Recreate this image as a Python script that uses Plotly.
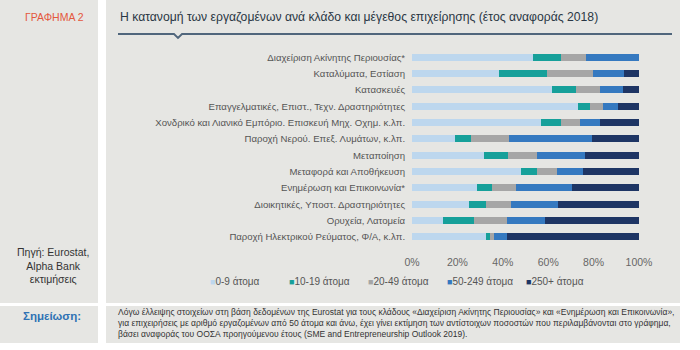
import plotly.graph_objects as go

categories = [
    "Διαχείριση Ακίνητης Περιουσίας*",
    "Καταλύματα, Εστίαση",
    "Κατασκευές",
    "Επαγγελματικές, Επιστ., Τεχν. Δραστηριότητες",
    "Χονδρικό και Λιανικό Εμπόριο. Επισκευή Μηχ. Οχημ. κ.λπ.",
    "Παροχή Νερού. Επεξ. Λυμάτων, κ.λπ.",
    "Μεταποίηση",
    "Μεταφορά και Αποθήκευση",
    "Ενημέρωση και Επικοινωνία*",
    "Διοικητικές, Υποστ. Δραστηριότητες",
    "Ορυχεία, Λατομεία",
    "Παροχή Ηλεκτρικού Ρεύματος, Φ/Α, κ.λπ.",
]
series_names = ["0-9 άτομα", "10-19 άτομα", "20-49 άτομα", "50-249 άτομα", "250+ άτομα"]
s_0_9 = [53.5, 38.5, 61.8, 73.1, 56.7, 19.0, 31.5, 48.0, 28.7, 24.9, 13.5, 32.4]
s_10_19 = [12.3, 20.9, 10.4, 5.1, 9.0, 7.2, 10.7, 7.1, 6.7, 7.6, 13.7, 2.0]
s_20_49 = [10.9, 20.4, 10.7, 5.8, 8.2, 16.7, 12.7, 8.6, 10.6, 11.1, 14.8, 1.9]
s_50_249 = [23.3, 13.8, 10.1, 6.9, 8.8, 36.5, 21.4, 11.7, 24.7, 20.8, 16.6, 5.4]
s_250 = [0.0, 6.4, 7.0, 9.1, 17.3, 20.6, 23.7, 24.6, 29.3, 35.6, 41.4, 58.3]
tick_vals = [0, 20, 40, 60, 80, 100]
tick_text = ["0%", "20%", "40%", "60%", "80%", "100%"]

title_text = "Η κατανομή των εργαζομένων ανά κλάδο και μέγεθος επιχείρησης (έτος αναφοράς 2018)"
label_text = "ΓΡΑΦΗΜΑ 2"
source_text = "Πηγή: Eurostat,<br>Alpha Bank<br>εκτιμήσεις"
note_label = "<b>Σημείωση:</b>"
note_lines = [
    "Λόγω έλλειψης στοιχείων στη βάση δεδομένων της Eurostat για τους κλάδους «Διαχείριση Ακίνητης Περιουσίας» και «Ενημέρωση και Επικοινωνία»,",
    "για επιχειρήσεις με αριθμό εργαζομένων από 50 άτομα και άνω, έχει γίνει εκτίμηση των αντίστοιχων ποσοστών που περιλαμβάνονται στο γράφημα,",
    "βάσει αναφοράς του ΟΟΣΑ προηγούμενου έτους (SME and Entrepreneurship Outlook 2019).",
]

colors = ["#bdd7ee", "#16a09a", "#a6a6a6", "#3579c0", "#1e3564"]
all_series = [s_0_9, s_10_19, s_20_49, s_50_249, s_250]

W, H = 700, 350
ML, MR, MT, MB = 412, 61, 49, 105
PW, PH = W - ML - MR, H - MT - MB

def px(x):
    return (x - ML) / PW

def py(y):
    return (H - MB - y) / PH

FONT = "Liberation Sans Narrow, Arial Narrow, Liberation Sans, Arial"
BG = "#e6e6e3"
CLEAR = "rgba(0,0,0,0)"

fig = go.Figure()
for name, vals, col in zip(series_names, all_series, colors):
    fig.add_trace(go.Bar(
        y=categories, x=vals, name=name, orientation="h",
        marker=dict(color=col, line=dict(width=0)), showlegend=False,
    ))
# legend entries: coloured square glyph in the label, symbol itself hidden
for name, col in zip(series_names + [" "], colors + [CLEAR]):
    label = f'<span style="color:{col}; font-size:9px">■</span>{name}' if name.strip() else " "
    fig.add_trace(go.Scatter(
        x=[None], y=[None], mode="markers",
        marker=dict(color=CLEAR, size=1, line=dict(width=0)),
        name=label, showlegend=True, hoverinfo="skip",
    ))

shapes = []
for (x0, x1, y0, y1) in [(0, 98, 0, 303), (106, 680, 0, 303), (0, 98, 306, 343), (106, 680, 306, 343)]:
    shapes.append(dict(type="rect", xref="paper", yref="paper",
                       x0=px(x0), x1=px(x1), y0=py(y1), y1=py(y0),
                       fillcolor=BG, line=dict(width=0), layer="below"))
path_pts = [(118, 34), (174, 34), (178, 38), (182, 34), (672, 34)]
path = "M " + " L ".join(f"{px(a):.5f},{py(b):.5f}" for a, b in path_pts)
shapes.append(dict(type="path", xref="paper", yref="paper", path=path,
                   line=dict(color="#50667c", width=1.8)))

annotations = [
    dict(text=title_text, x=px(118), y=py(17), xref="paper", yref="paper",
         xanchor="left", yanchor="middle", showarrow=False,
         font=dict(family=FONT, size=12.2, color="#2a3644")),
    dict(text=label_text, x=px(54), y=py(17), xref="paper", yref="paper",
         xanchor="center", yanchor="middle", showarrow=False,
         font=dict(family=FONT, size=10.5, color="#e4573d")),
    dict(text=source_text, x=px(53), y=py(265), xref="paper", yref="paper",
         xanchor="center", yanchor="middle", showarrow=False, align="center",
         font=dict(family="Liberation Sans, Arial", size=10.5, color="#333333")),
    dict(text=note_label, x=px(52), y=py(316), xref="paper", yref="paper",
         xanchor="center", yanchor="middle", showarrow=False,
         font=dict(family="Liberation Sans, Arial", size=11.5, color="#2f72b4")),
]
for i, line in enumerate(note_lines):
    annotations.append(dict(text=line, x=px(116), y=py(312 + 11 * i), xref="paper", yref="paper",
                            xanchor="left", yanchor="middle", showarrow=False,
                            font=dict(family=FONT, size=8.5, color="#333333")))

fig.update_layout(
    width=W, height=H,
    margin=dict(l=ML, r=MR, t=MT, b=MB, pad=0),
    barmode="stack", bargap=0.57,
    paper_bgcolor="white", plot_bgcolor=BG,
    font=dict(family=FONT, size=10, color="#555555"),
    xaxis=dict(range=[0, 100], tickvals=tick_vals, ticktext=tick_text,
               showgrid=False, zeroline=False, showline=False,
               ticks="outside", ticklen=7, tickcolor=BG,
               tickfont=dict(family="Liberation Sans, Arial", size=10.5, color="#666666"),
               fixedrange=True),
    yaxis=dict(autorange="reversed", showgrid=False, zeroline=False, showline=False,
               ticks="outside", ticklen=4, tickcolor=BG,
               tickfont=dict(family=FONT, size=9.6, color="#555555"),
               fixedrange=True),
    legend=dict(orientation="h", x=px(170), xanchor="left", y=py(281), yanchor="middle",
                font=dict(family="Liberation Sans, Arial", size=10, color="#555555"),
                bgcolor=CLEAR, itemwidth=30, traceorder="normal",
                tracegroupgap=0, entrywidth=34, entrywidthmode="pixels"),
    shapes=shapes, annotations=annotations,
    showlegend=True,
)
fig.write_html("out.html")
